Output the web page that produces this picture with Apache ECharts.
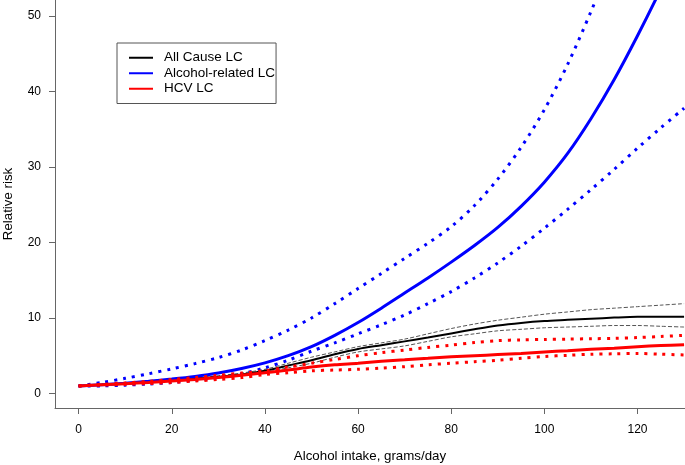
<!DOCTYPE html>
<html>
<head>
<meta charset="utf-8">
<style>
  html, body { margin: 0; padding: 0; background: #fff; }
  #main { width: 685px; height: 465px; }
</style>
<script src="https://cdn.jsdelivr.net/npm/echarts@6/dist/echarts.min.js"></script>
</head>
<body>
<div id="main"></div>
<script>
// alcohol intake, grams/day
var intake = [0, 5, 10, 15, 20, 25, 30, 35, 40, 45, 50, 55, 60, 65, 70, 75, 80, 85, 90, 95, 100, 105, 110, 115, 120, 125, 130];

var allCause      = [1, 1.15, 1.3, 1.5, 1.7, 1.95, 2.2, 2.5, 3.0, 3.7, 4.4, 5.2, 5.9, 6.4, 6.9, 7.4, 7.95, 8.5, 9.0, 9.35, 9.6, 9.75, 9.9, 10.05, 10.15, 10.15, 10.15];
var allCauseHi    = [1, 1.15, 1.3, 1.5, 1.75, 2.05, 2.35, 2.7, 3.2, 4.0, 4.8, 5.5, 6.2, 6.7, 7.2, 7.9, 8.6, 9.2, 9.7, 10.1, 10.5, 10.8, 11.1, 11.3, 11.5, 11.7, 11.9];
var allCauseLo    = [1, 1.15, 1.3, 1.45, 1.65, 1.85, 2.05, 2.35, 2.8, 3.4, 4.0, 4.8, 5.5, 5.9, 6.3, 6.9, 7.5, 7.9, 8.3, 8.5, 8.7, 8.8, 8.9, 9.0, 9.0, 8.9, 8.8];

var alcohol       = [1, 1.15, 1.35, 1.6, 1.9, 2.25, 2.7, 3.3, 4.05, 5.0, 6.2, 7.7, 9.4, 11.3, 13.3, 15.3, 17.4, 19.6, 22.0, 24.8, 28.0, 31.8, 36.4, 41.6, 47.4, 53.6, 60.2];
var alcoholHi     = [1, 1.45, 2.0, 2.6, 3.25, 3.95, 4.75, 5.75, 7.0, 8.4, 10.0, 11.9, 13.9, 15.9, 17.9, 19.9, 22.1, 24.9, 28.4, 32.6, 37.6, 43.6, 50.6, 58.2, 66.5, 75, 84];
var alcoholLo     = [1, 1.0, 1.1, 1.25, 1.45, 1.75, 2.1, 2.6, 3.4, 4.4, 5.6, 6.7, 7.9, 9.1, 10.4, 11.9, 13.5, 15.3, 17.3, 19.5, 21.9, 24.4, 27.0, 29.7, 32.5, 35.2, 37.8];

var hcv           = [1, 1.15, 1.3, 1.45, 1.65, 1.85, 2.1, 2.4, 2.75, 3.1, 3.5, 3.8, 4.0, 4.25, 4.45, 4.65, 4.85, 5.0, 5.15, 5.3, 5.5, 5.65, 5.85, 6.0, 6.2, 6.35, 6.45];
var hcvHi         = [1, 1.2, 1.4, 1.6, 1.85, 2.1, 2.4, 2.7, 3.0, 3.5, 4.0, 4.5, 5.0, 5.4, 5.75, 6.1, 6.4, 6.75, 7.0, 7.1, 7.15, 7.2, 7.25, 7.3, 7.4, 7.55, 7.7];
var hcvLo         = [1, 1.1, 1.2, 1.3, 1.45, 1.65, 1.85, 2.1, 2.5, 2.75, 3.0, 3.1, 3.2, 3.35, 3.55, 3.8, 4.0, 4.2, 4.4, 4.65, 4.9, 5.05, 5.2, 5.25, 5.3, 5.2, 5.1];

var xTicks = [0, 20, 40, 60, 80, 100, 120];
var yTicks = [0, 10, 20, 30, 40, 50];
var legendNames = ['All Cause LC', 'Alcohol-related LC', 'HCV LC'];

var font = "'Liberation Sans', Arial, sans-serif";

function pairs(vals){
  var out = [];
  for(var i=0;i<intake.length;i++){
    out.push([intake[i], vals[i]]);
  }
  return out;
}

function line(name, vals, color, width, dash){
  return {
    name: name,
    type: 'line',
    data: pairs(vals),
    smooth: 0.3,
    showSymbol: false,
    symbol: 'none',
    lineStyle: { color: color, width: width, type: dash || 'solid', cap: 'butt' },
    itemStyle: { color: color },
    silent: true
  };
}

var myChart = echarts.init(document.getElementById('main'));

var opt = {
  animation: false,
  grid: { left: 55, right: 0, top: 0, bottom: 57, containLabel: false, outerBoundsMode: 'none' },
  legend: {
    data: legendNames,
    orient: 'vertical',
    left: 117,
    top: 43,
    padding: [7, 1, 7, 12],
    itemGap: 0,
    itemWidth: 24,
    itemHeight: 2,
    icon: 'rect',
    borderColor: '#555',
    borderWidth: 1,
    selectedMode: false,
    textStyle: { fontFamily: font, fontSize: 13.5, color: '#000', lineHeight: 15.5, padding: [0, 0, 0, 6] }
  },
  xAxis: {
    type: 'value',
    min: -5.07,
    max: 130.2,
    name: 'Alcohol intake, grams/day',
    nameLocation: 'middle',
    nameGap: 42,
    nameTextStyle: { fontFamily: font, fontSize: 13.3, color: '#000' },
    axisLine: { show: true, onZero: false, lineStyle: { color: '#666', width: 1 } },
    axisTick: { show: true, length: 6, customValues: xTicks, lineStyle: { color: '#666' } },
    axisLabel: { customValues: xTicks, margin: 16, fontFamily: font, fontSize: 12, color: '#000' },
    splitLine: { show: false }
  },
  yAxis: {
    type: 'value',
    min: -1.93,
    max: 52.14,
    name: 'Relative risk',
    nameLocation: 'middle',
    nameGap: 40,
    nameTextStyle: { fontFamily: font, fontSize: 13.3, color: '#000' },
    axisLine: { show: true, onZero: false, lineStyle: { color: '#666', width: 1 } },
    axisTick: { show: true, length: 6, customValues: yTicks, lineStyle: { color: '#666' } },
    axisLabel: { customValues: yTicks, margin: 14, fontFamily: font, fontSize: 12, color: '#000' },
    splitLine: { show: false }
  },
  series: [
    line('All Cause LC upper', allCauseHi, '#555', 1, [4, 2]),
    line('All Cause LC lower', allCauseLo, '#555', 1, [4, 2]),
    line(legendNames[0], allCause, '#000', 2),
    line('Alcohol-related LC upper', alcoholHi, '#0000ff', 3, [3, 6]),
    line('Alcohol-related LC lower', alcoholLo, '#0000ff', 3, [3, 6]),
    line(legendNames[1], alcohol, '#0000ff', 3),
    line('HCV LC upper', hcvHi, '#ff0000', 3, [3, 6]),
    line('HCV LC lower', hcvLo, '#ff0000', 3, [3, 6]),
    line(legendNames[2], hcv, '#ff0000', 3)
  ]
};

myChart.setOption(opt);
</script>
</body>
</html>
